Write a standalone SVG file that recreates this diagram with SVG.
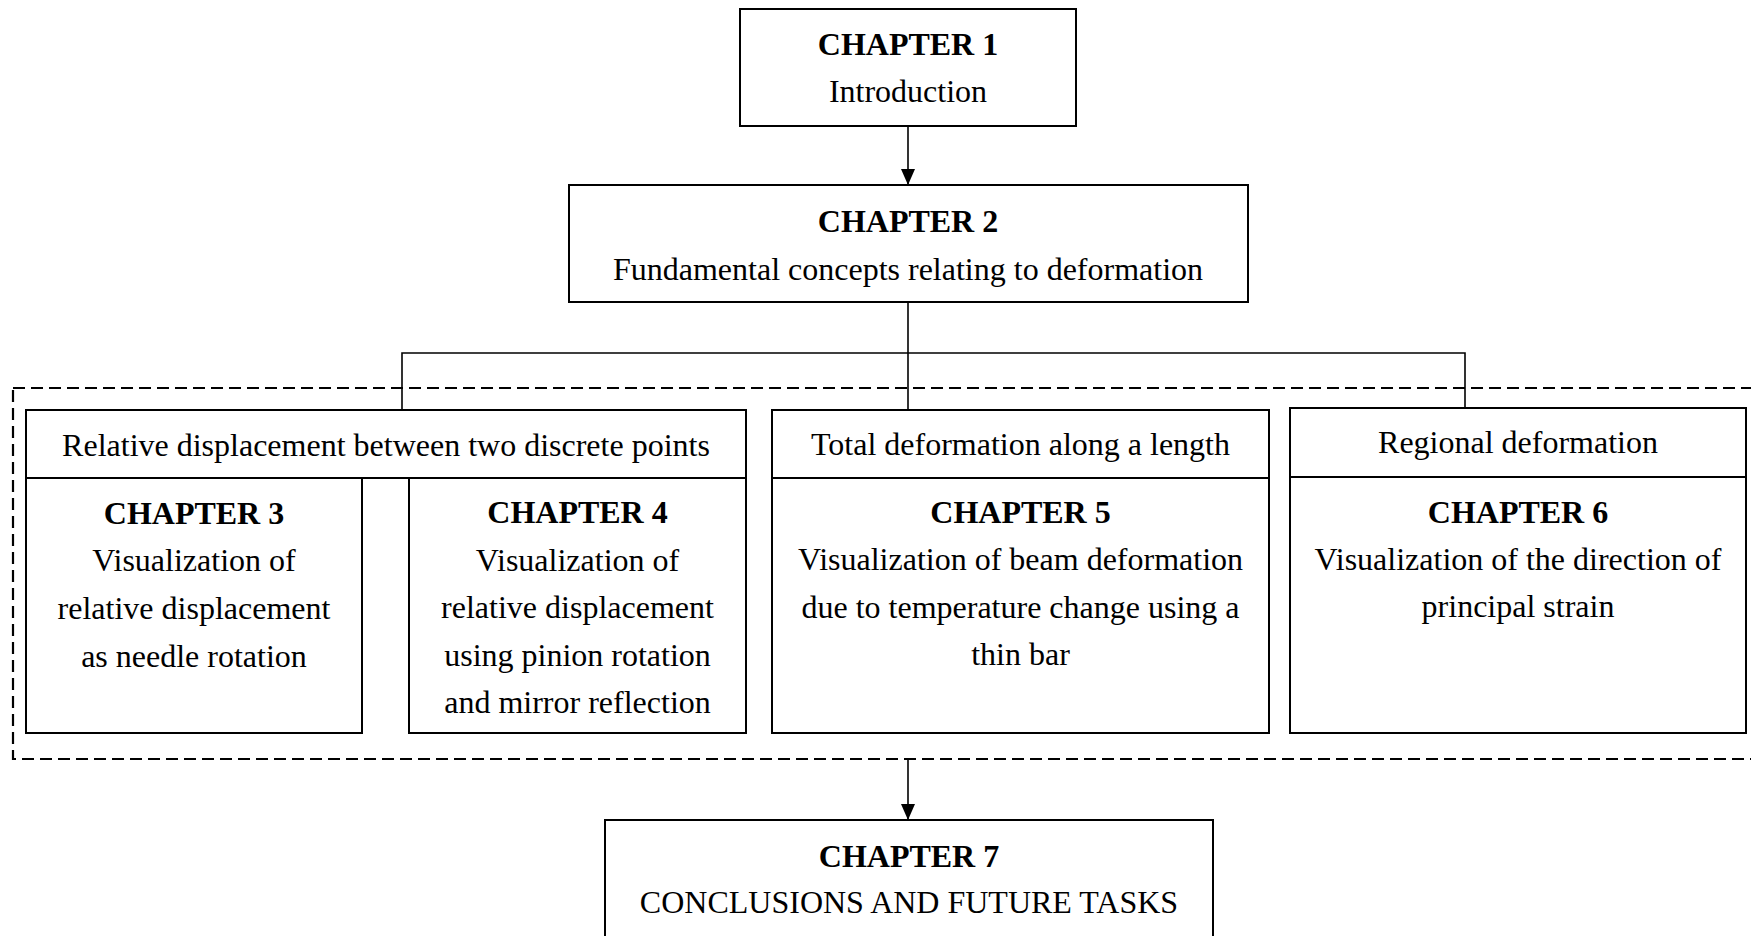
<svg xmlns="http://www.w3.org/2000/svg" width="1751" height="936" viewBox="0 0 1751 936">
<defs>
<style>
.box{fill:#fff;stroke:#000;stroke-width:2}
.t{font-family:"Liberation Serif","Times New Roman",serif;font-size:32px;fill:#000;text-anchor:middle}
.b{font-weight:bold}
.ln{stroke:#000;stroke-width:1.6;fill:none}
.dash{stroke:#000;stroke-width:2.2;fill:none;stroke-dasharray:12 6}
</style>
<marker id="arr" viewBox="0 0 16 14" refX="16" refY="7" markerWidth="16" markerHeight="14" markerUnits="userSpaceOnUse" orient="auto">
<path d="M0,0 L16,7 L0,14 Z" fill="#000"/>
</marker>
</defs>
<rect width="1751" height="936" fill="#fff"/>
<g id="group-frame">
<rect class="dash" x="13" y="388" width="1760" height="371"/>
</g>
<g id="connectors">
<line class="ln" x1="908" y1="126" x2="908" y2="185" marker-end="url(#arr)"/>
<polyline class="ln" points="908,302 908,353"/>
<polyline class="ln" points="402,410 402,353 1465,353 1465,408"/>
<line class="ln" x1="908" y1="353" x2="908" y2="410"/>
<line class="ln" x1="908" y1="759" x2="908" y2="820" marker-end="url(#arr)"/>
</g>
<g id="ch1">
<rect class="box" x="740" y="9" width="336" height="117"/>
<text class="t b" x="908" y="55">CHAPTER 1</text>
<text class="t" x="908" y="102">Introduction</text>
</g>
<g id="ch2">
<rect class="box" x="569" y="185" width="679" height="117"/>
<text class="t b" x="908" y="232">CHAPTER 2</text>
<text class="t" x="908" y="280">Fundamental concepts relating to deformation</text>
</g>
<g id="hdr-relative">
<rect class="box" x="26" y="410" width="720" height="68"/>
<text class="t" x="386" y="456">Relative displacement between two discrete points</text>
</g>
<g id="ch3">
<rect class="box" x="26" y="478" width="336" height="255"/>
<text class="t b" x="194" y="524">CHAPTER 3</text>
<text class="t" x="194" y="571">Visualization of</text>
<text class="t" x="194" y="619">relative displacement</text>
<text class="t" x="194" y="667">as needle rotation</text>
</g>
<g id="ch4">
<rect class="box" x="409" y="478" width="337" height="255"/>
<text class="t b" x="577.5" y="523">CHAPTER 4</text>
<text class="t" x="577.5" y="571">Visualization of</text>
<text class="t" x="577.5" y="618">relative displacement</text>
<text class="t" x="577.5" y="666">using pinion rotation</text>
<text class="t" x="577.5" y="713">and mirror reflection</text>
</g>
<g id="hdr-total">
<rect class="box" x="772" y="410" width="497" height="68"/>
<text class="t" x="1020.5" y="455">Total deformation along a length</text>
</g>
<g id="ch5">
<rect class="box" x="772" y="478" width="497" height="255"/>
<text class="t b" x="1020.5" y="523">CHAPTER 5</text>
<text class="t" x="1020.5" y="570">Visualization of beam deformation</text>
<text class="t" x="1020.5" y="618">due to temperature change using a</text>
<text class="t" x="1020.5" y="665">thin bar</text>
</g>
<g id="hdr-regional">
<rect class="box" x="1290" y="408" width="456" height="69"/>
<text class="t" x="1518" y="453">Regional deformation</text>
</g>
<g id="ch6">
<rect class="box" x="1290" y="477" width="456" height="256"/>
<text class="t b" x="1518" y="523">CHAPTER 6</text>
<text class="t" x="1518" y="570">Visualization of the direction of</text>
<text class="t" x="1518" y="617">principal strain</text>
</g>
<g id="ch7">
<rect class="box" x="605" y="820" width="608" height="140"/>
<text class="t b" x="909" y="867">CHAPTER 7</text>
<text class="t" x="909" y="913">CONCLUSIONS AND FUTURE TASKS</text>
</g>
</svg>
